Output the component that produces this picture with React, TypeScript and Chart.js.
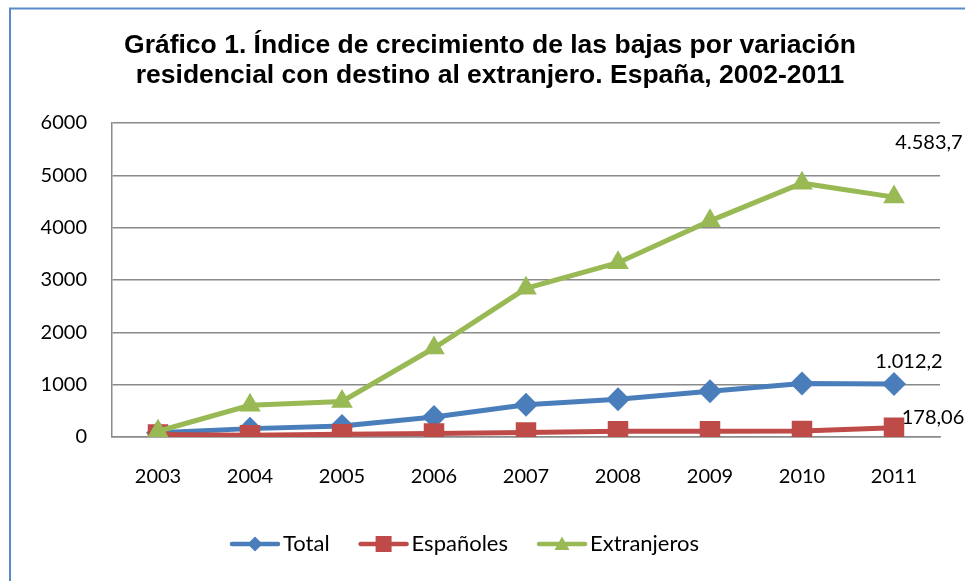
import React, { useEffect, useRef } from "react";
import { Chart, registerables } from "chart.js";

Chart.register(...registerables);

const years = ["2003", "2004", "2005", "2006", "2007", "2008", "2009", "2010", "2011"];
const totalValues = [80, 160, 210, 382, 618, 720, 872, 1020, 1012.2];
const espanolesValues = [50, 32, 52, 65, 84, 109, 109, 115, 178.06];
const extranjerosValues = [110, 605, 680, 1700, 2840, 3330, 4130, 4850, 4583.7];
const seriesNames = ["Total", "Españoles", "Extranjeros"];
const lastPointLabels = ["1.012,2", "178,06", "4.583,7"];
const yMin = 0;
const yMax = 6000;
const yStep = 1000;
const titleLines = [
  "Gráfico 1. Índice de crecimiento de las bajas por variación",
  "residencial con destino al extranjero. España, 2002-2011",
];

const COLORS = ["#4A7EBB", "#BE4B48", "#98B954"];
const MARKERS = ["rectRot", "rect", "triangle"];
const TICK_FONT = "Lato";

function drawMarker(ctx: CanvasRenderingContext2D, kind: string, x: number, y: number, s: number) {
  ctx.beginPath();
  if (kind === "rectRot") {
    ctx.moveTo(x, y - s);
    ctx.lineTo(x + s, y);
    ctx.lineTo(x, y + s);
    ctx.lineTo(x - s, y);
  } else if (kind === "rect") {
    ctx.rect(x - s, y - s, 2 * s, 2 * s);
  } else {
    ctx.moveTo(x, y - s);
    ctx.lineTo(x + s, y + s * 0.8);
    ctx.lineTo(x - s, y + s * 0.8);
  }
  ctx.closePath();
  ctx.fill();
}

const framePlugin = {
  id: "frame",
  beforeDraw(chart: any) {
    const ctx = chart.ctx;
    ctx.save();
    ctx.fillStyle = "#ffffff";
    ctx.fillRect(0, 0, chart.width, chart.height);
    ctx.strokeStyle = "#5B8AC8";
    ctx.lineWidth = 2;
    ctx.strokeRect(10, 8.5, chart.width + 50, chart.height + 50);
    ctx.restore();
  },
};

const titlePlugin = {
  id: "customTitle",
  afterDraw(chart: any) {
    const ctx = chart.ctx;
    ctx.save();
    ctx.fillStyle = "#000000";
    ctx.font = "bold 26.5px 'Liberation Sans', Arial, sans-serif";
    ctx.textAlign = "center";
    ctx.textBaseline = "alphabetic";
    ctx.fillText(titleLines[0], 490, 53);
    ctx.fillText(titleLines[1], 490, 83);
    ctx.restore();
  },
};

const endLabelOffsets = [
  { dx: 15, dy: -22 },
  { dx: 39, dy: -10 },
  { dx: 35, dy: -55 },
];

const endLabelPlugin = {
  id: "endLabels",
  afterDatasetsDraw(chart: any) {
    const ctx = chart.ctx;
    ctx.save();
    ctx.fillStyle = "#000000";
    ctx.font = `20px ${TICK_FONT}`;
    ctx.textAlign = "center";
    ctx.textBaseline = "middle";
    chart.data.datasets.forEach((ds: any, i: number) => {
      const meta = chart.getDatasetMeta(i);
      const pt = meta.data[meta.data.length - 1];
      if (!pt) return;
      const off = endLabelOffsets[i];
      ctx.fillText(lastPointLabels[i], pt.x + off.dx, pt.y + off.dy);
    });
    ctx.restore();
  },
};

const legendPlugin = {
  id: "customLegend",
  afterDraw(chart: any) {
    const ctx = chart.ctx;
    ctx.save();
    ctx.font = `22px ${TICK_FONT}`;
    ctx.textBaseline = "middle";
    ctx.textAlign = "left";
    const y = 544;
    const lineLen = 50;
    const gapText = 3;
    const gapItem = 29;
    let x = 230;
    seriesNames.forEach((name, i) => {
      ctx.strokeStyle = COLORS[i];
      ctx.fillStyle = COLORS[i];
      ctx.lineWidth = 4.5;
      ctx.lineCap = "round";
      ctx.beginPath();
      ctx.moveTo(x + 2, y);
      ctx.lineTo(x + lineLen - 2, y);
      ctx.stroke();
      drawMarker(ctx, MARKERS[i], x + lineLen / 2, y, i === 1 ? 8 : 7.5);
      ctx.fillStyle = "#000000";
      const tx = x + lineLen + gapText;
      ctx.fillText(name, tx, y);
      x = tx + ctx.measureText(name).width + gapItem;
    });
    ctx.restore();
  },
};

export default function App() {
  const canvasRef = useRef<HTMLCanvasElement | null>(null);

  useEffect(() => {
    const canvas = canvasRef.current;
    if (!canvas) return;
    const series = [totalValues, espanolesValues, extranjerosValues];
    const chart = new Chart(canvas, {
      type: "line",
      data: {
        labels: years,
        datasets: series.map((values, i) => ({
          label: seriesNames[i],
          data: values,
          borderColor: COLORS[i],
          backgroundColor: COLORS[i],
          borderWidth: 5,
          pointStyle: MARKERS[i] as any,
          pointRadius: i === 0 ? 12 : i === 1 ? 14.5 : 12.5,
          pointBorderWidth: 0,
          pointBackgroundColor: COLORS[i],
          tension: 0,
          order: 2 - i,
        })),
      },
      options: {
        responsive: false,
        animation: false,
        devicePixelRatio: 1,
        layout: { padding: { top: 123, right: 25, left: 0, bottom: 0 } },
        plugins: {
          legend: { display: false },
          title: { display: false },
          tooltip: { enabled: false },
        },
        scales: {
          x: {
            offset: true,
            grid: { display: false, drawTicks: false },
            border: { display: true, color: "#8A8A8A", width: 1.5 },
            ticks: {
              color: "#000000",
              font: { family: TICK_FONT, size: 20 },
              padding: 28,
              maxRotation: 0,
            },
            afterFit(scale: any) {
              scale.height = 144;
            },
          },
          y: {
            min: yMin,
            max: yMax,
            grid: { color: "#8A8A8A", lineWidth: 1.5, drawTicks: false },
            border: { display: true, color: "#8A8A8A", width: 1.5 },
            ticks: {
              stepSize: yStep,
              color: "#000000",
              font: { family: TICK_FONT, size: 20 },
              padding: 25,
              callback: (v: any) => String(v),
            },
            afterFit(scale: any) {
              scale.width = 112;
            },
          },
        },
      },
      plugins: [framePlugin, endLabelPlugin, titlePlugin, legendPlugin],
    });
    return () => chart.destroy();
  }, []);

  return (
    <div style={{ position: "absolute", left: 0, top: 0, width: 965, height: 581 }}>
      <canvas ref={canvasRef} width={965} height={581} style={{ display: "block" }} />
    </div>
  );
}
